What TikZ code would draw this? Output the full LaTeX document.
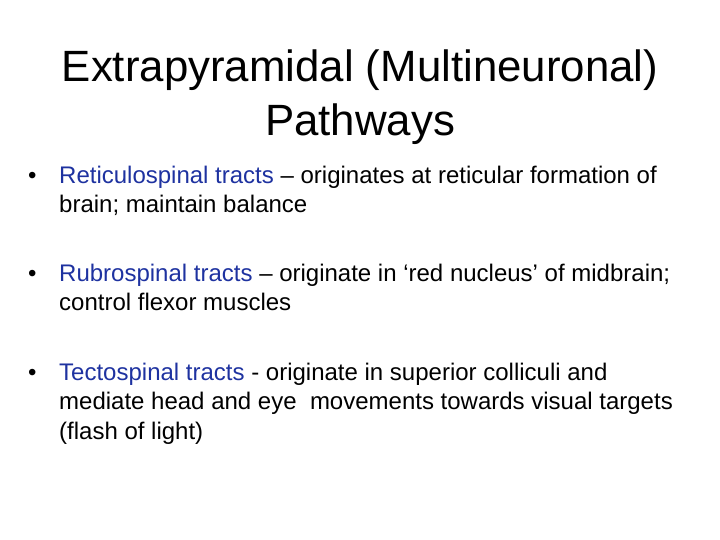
\documentclass[tikz,border=0pt]{standalone}
\usepackage{fontspec}
\setmainfont{Liberation Sans}
\definecolor{bl}{RGB}{30,50,160}
\begin{document}
\begin{tikzpicture}[x=1pt,y=1pt,
 title/.style={anchor=base,font=\fontsize{43.8}{48}\selectfont,inner sep=0},
 line/.style={anchor=base west,font=\fontsize{24}{28}\selectfont,inner sep=0},
 bul/.style={anchor=base west,font=\fontsize{24}{28}\selectfont,inner sep=0}]
\useasboundingbox (0,0) rectangle (720,-540);
\node[title] (t1) at (360,-82) {Extrapyramidal (Multineuronal)};
\node[title] (t2) at (360,-136) {Pathways};
\node[bul] (b1) at (28,-184) {•};
\node[line] (l1a) at (59,-184) {\textcolor{bl}{Reticulospinal tracts} – originates at reticular formation of};
\node[line] (l1b) at (59,-213) {brain; maintain balance};
\node[bul] (b2) at (28,-281) {•};
\node[line] (l2a) at (59,-281) {\textcolor{bl}{Rubrospinal tracts} – originate in ‘red nucleus’ of midbrain;};
\node[line] (l2b) at (59,-310) {control flexor muscles};
\node[bul] (b3) at (28,-380) {•};
\node[line] (l3a) at (59,-380) {\textcolor{bl}{Tectospinal tracts} - originate in superior colliculi and};
\node[line] (l3b) at (59,-409) {mediate head and eye\ \ movements towards visual targets};
\node[line] (l3c) at (59,-439) {(flash of light)};
\end{tikzpicture}
\end{document}
